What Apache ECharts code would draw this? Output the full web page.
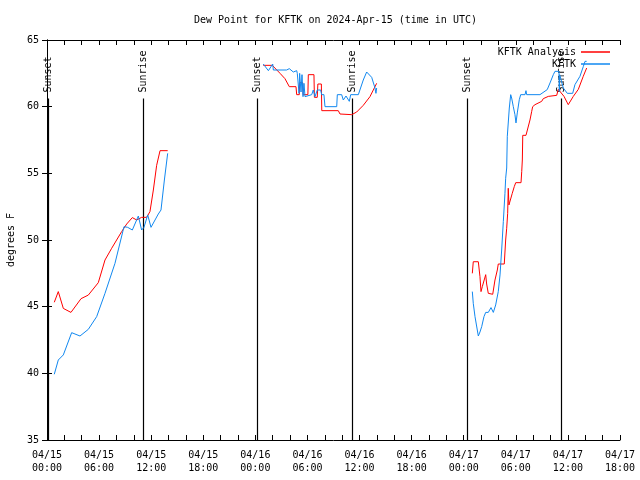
<!DOCTYPE html>
<html>
<head>
<meta charset="utf-8">
<script src="https://cdn.jsdelivr.net/npm/echarts@6/dist/echarts.min.js"></script>
<style>html,body{margin:0;padding:0;background:#fff}#c{width:640px;height:480px}</style>
</head>
<body>
<div id="c"></div>
<script>
// hours since 04/15 00:00 UTC ; null = gap between data segments
const analysisTime = [0.84,1.30,1.88,2.76,3.92,4.76,5.91,6.68,7.45,8.60,9.18,9.83,10.33,10.90,11.48,11.86,12.25,12.63,13.02,13.90,
  null,
  24.91,25.95,26.84,27.41,27.91,28.68,28.76,29.06,29.10,29.45,29.50,30.05,30.10,30.75,30.80,31.13,31.20,31.60,31.65,33.55,33.75,35.10,35.67,36.43,37.20,37.97,
  null,
  48.99,49.10,49.68,49.87,49.99,50.14,50.53,50.64,50.83,51.34,51.60,51.87,51.98,52.67,52.83,52.95,53.06,53.13,53.21,53.33,53.59,53.82,53.99,54.60,54.68,54.75,54.80,55.17,55.63,55.83,55.94,56.21,56.98,57.16,57.74,58.71,58.89,59.55,60.04,60.62,61.20,61.77,62.16];
const analysisDew = [45.33,46.13,44.87,44.57,45.6,45.87,46.8,48.5,49.38,50.63,51.2,51.68,51.5,51.7,51.7,52.13,53.75,55.6,56.7,56.7,
  null,
  63.1,63.1,62.5,62.1,61.5,61.5,60.9,60.9,61.8,61.8,60.9,60.9,62.4,62.4,60.7,60.7,61.7,61.7,59.7,59.7,59.45,59.4,59.6,60.1,60.75,61.75,
  null,
  47.5,48.37,48.37,47.25,46.13,46.5,47.4,46.7,46.0,45.93,47.0,47.75,48.2,48.2,50.0,50.88,52.0,53.88,52.63,52.5,53.5,54.0,54.3,54.3,55.13,56.0,57.85,57.85,59.0,59.65,60.0,60.15,60.4,60.6,60.77,60.85,61.3,60.77,60.15,60.77,61.3,62.28,62.9];
const obsTime = [0.84,1.30,1.88,2.84,3.80,4.76,5.72,6.68,7.83,8.87,9.29,9.83,10.52,10.90,11.17,11.60,11.98,12.82,13.13,13.52,13.90,
  null,
  24.91,25.50,26.00,26.07,27.60,27.91,28.37,28.76,28.83,29.03,29.10,29.26,29.37,29.49,29.60,29.72,30.49,30.67,30.87,31.13,31.52,31.64,31.90,32.02,33.37,33.44,33.94,34.13,34.44,34.82,34.98,35.86,36.43,36.82,37.01,37.40,37.78,37.89,37.97,
  null,
  48.99,49.10,49.30,49.68,49.87,50.07,50.33,50.53,50.83,51.14,51.41,51.68,51.98,52.18,52.37,52.56,52.75,52.83,52.95,53.02,53.25,53.41,53.52,53.71,53.90,54.02,54.17,54.40,54.56,55.06,55.17,55.25,56.78,57.62,57.94,58.32,58.51,58.97,59.01,59.05,59.47,59.93,60.55,60.81,61.39,61.77,61.97,62.16];
const obsDew = [39.93,41.0,41.38,43.05,42.8,43.3,44.25,46.0,48.25,51.0,50.95,50.75,51.8,50.75,50.95,51.88,50.95,51.95,52.25,54.5,56.5,
  null,
  63.2,62.7,63.2,62.75,62.75,62.85,62.6,62.7,62.5,61.0,62.5,61.1,62.4,60.75,61.75,60.75,60.9,61.25,60.75,61.25,61.25,60.9,60.9,60.0,60.0,60.9,60.9,60.5,60.8,60.4,60.9,60.9,62.0,62.6,62.6,62.2,61.4,61.0,61.4,
  null,
  46.13,45.25,44.25,42.8,43.1,43.5,44.25,44.57,44.57,44.93,44.57,45.13,46.13,47.38,49.25,51.38,53.5,54.63,55.4,57.78,59.9,60.9,60.65,60.0,59.4,58.78,59.53,60.52,60.9,60.9,61.2,60.9,60.9,61.28,61.78,62.4,62.65,62.65,61.15,62.4,61.4,61.0,61.0,61.65,62.28,63.0,63.4,63.4];
const sunTimes = [0.15, 11.09, 24.22, 35.17, 48.41, 59.20];
const sunLabels = ['Sunset','Sunrise','Sunset','Sunrise','Sunset','Sunrise'];
const seriesNames = ['KFTK Analysis', 'KFTK'];
const xMin = 0, xMax = 66, xStep = 6;
const yMin = 35, yMax = 65, yStep = 5;
const sunLineTop = 60.61;

const FONT = '"DejaVu Sans Mono", "Liberation Mono", monospace';
function pairs(t, v) { return t.map((x, i) => x === null ? ['-', '-'] : [x, v[i]]); }
function fmtHour(h) {
  const d = 15 + Math.floor(h / 24);
  const hh = h % 24;
  return '04/' + d + '\n' + (hh < 10 ? '0' : '') + hh + ':00';
}
const tickCommon = { inside: true, length: 5, lineStyle: { color: '#000', width: 1 } };
const axisLineCommon = { show: true, lineStyle: { color: '#000', width: 1 } };

const chart = echarts.init(document.getElementById('c'), null, { renderer: 'canvas' });
chart.setOption({
  animation: false,
  backgroundColor: '#fff',
  title: {
    text: 'Dew Point for KFTK on 2024-Apr-15 (time in UTC)',
    left: 189, top: 10,
    textStyle: { fontFamily: FONT, fontSize: 10, fontWeight: 'normal', color: '#000' }
  },
  legend: {
    data: seriesNames,
    orient: 'vertical', align: 'right',
    right: 25, top: 41,
    itemWidth: 29, itemHeight: 1.5, itemGap: 0,
    icon: 'rect',
    textStyle: { fontFamily: FONT, fontSize: 10, color: '#000', lineHeight: 12 }
  },
  grid: { left: 47, right: 20, top: 40, bottom: 40, containLabel: false, outerBoundsMode: 'none' },
  xAxis: [{
    type: 'value', min: xMin, max: xMax, interval: xStep, position: 'bottom',
    axisLine: axisLineCommon, axisTick: tickCommon,
    minorTick: { show: true, splitNumber: 3, length: 5, lineStyle: { color: '#000' } },
    splitLine: { show: false },
    axisLabel: { formatter: fmtHour, fontFamily: FONT, fontSize: 10, color: '#000', lineHeight: 13, margin: 9 }
  }, {
    type: 'value', min: xMin, max: xMax, interval: xStep, position: 'top',
    axisLine: axisLineCommon, axisTick: tickCommon,
    minorTick: { show: true, splitNumber: 3, length: 5, lineStyle: { color: '#000' } },
    splitLine: { show: false }, axisLabel: { show: false }
  }],
  yAxis: [{
    type: 'value', min: yMin, max: yMax, interval: yStep, position: 'left',
    name: 'degrees F', nameLocation: 'middle', nameGap: 31,
    nameTextStyle: { fontFamily: FONT, fontSize: 10, color: '#000' },
    axisLine: axisLineCommon, axisTick: tickCommon, splitLine: { show: false },
    axisLabel: { fontFamily: FONT, fontSize: 10, color: '#000', margin: 8 }
  }, {
    type: 'value', min: yMin, max: yMax, interval: yStep, position: 'right',
    axisLine: axisLineCommon, axisTick: tickCommon, splitLine: { show: false },
    axisLabel: { show: false }
  }],
  series: [{
    name: seriesNames[0], type: 'line', color: '#ff0000',
    data: pairs(analysisTime, analysisDew),
    showSymbol: false, symbol: 'none', connectNulls: false,
    lineStyle: { width: 1, color: '#ff0000' }, z: 3
  }, {
    name: seriesNames[1], type: 'line', color: '#1188f0',
    data: pairs(obsTime, obsDew),
    showSymbol: false, symbol: 'none', connectNulls: false,
    lineStyle: { width: 1, color: '#1188f0' }, z: 4
  }, {
    name: 'sun', type: 'custom',
    data: sunTimes.map((t, i) => [t, i]),
    renderItem: function (params, api) {
      const h = api.value(0);
      const top = api.coord([h, sunLineTop]);
      const bot = api.coord([h, yMin]);
      const x = Math.round(top[0]) + 0.5;
      return {
        type: 'group',
        children: [{
          type: 'line',
          shape: { x1: x, y1: top[1], x2: x, y2: bot[1] },
          style: { stroke: '#000', lineWidth: 1.2 }
        }, {
          type: 'text',
          x: x, y: top[1] - 6,
          rotation: Math.PI / 2,
          style: {
            text: sunLabels[params.dataIndex],
            fill: '#000', fontFamily: FONT, fontSize: 10,
            align: 'left', verticalAlign: 'middle'
          }
        }]
      };
    },
    z: 2
  }]
});
</script>
</body>
</html>
